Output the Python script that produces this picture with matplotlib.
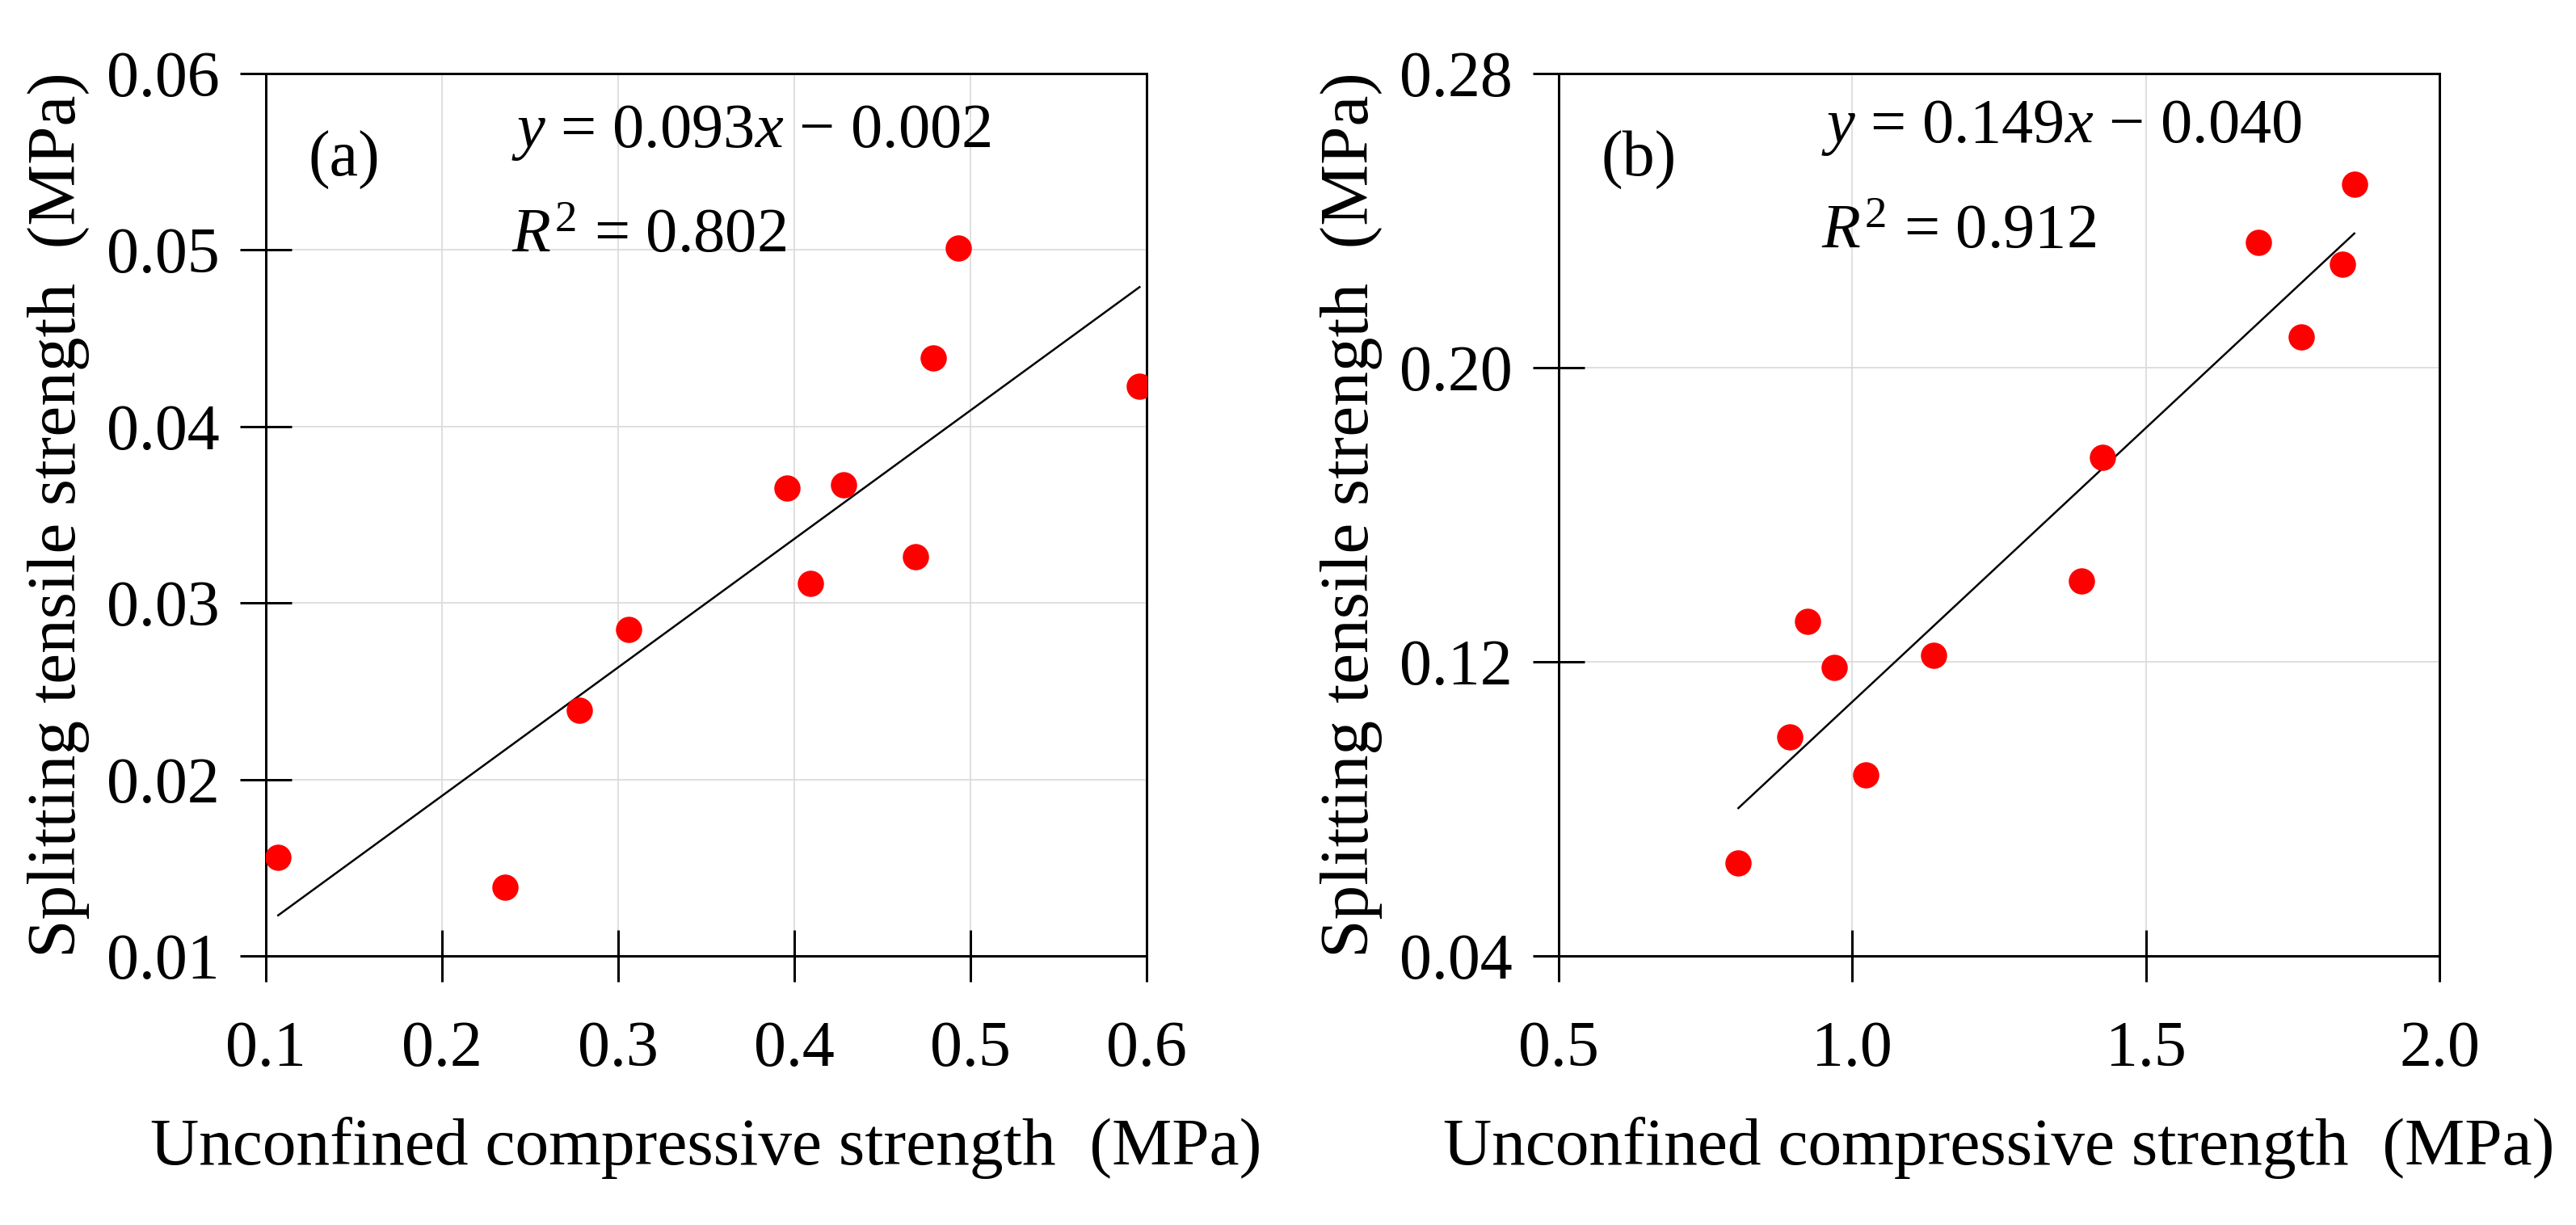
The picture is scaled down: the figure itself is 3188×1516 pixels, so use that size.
import matplotlib
matplotlib.use("Agg")
import matplotlib.pyplot as plt

plt.rcParams['font.family'] = ['Liberation Serif', 'DejaVu Serif']
plt.rcParams['mathtext.fontset'] = 'custom'
plt.rcParams['mathtext.rm'] = 'Liberation Serif'
plt.rcParams['mathtext.it'] = 'Liberation Serif:italic'

# (a) data
ucs_a = [0.107, 0.236, 0.278, 0.306, 0.396, 0.409, 0.428, 0.469, 0.479, 0.493, 0.596]
sts_a = [0.0156, 0.0139, 0.0239, 0.0285, 0.0365, 0.0311, 0.0367, 0.0326, 0.0439, 0.0501, 0.0423]
fit_x_a = [0.107, 0.596]
fit_y_a = [0.0123, 0.0479]

# (b) data
ucs_b = [0.806, 0.893, 0.924, 0.969, 1.023, 1.138, 1.390, 1.426, 1.692, 1.764, 1.835, 1.855]
sts_b = [0.0653, 0.0996, 0.1309, 0.1185, 0.0892, 0.1217, 0.1420, 0.1756, 0.2340, 0.2084, 0.2282, 0.2498]
fit_x_b = [0.806, 1.855]
fit_y_b = [0.0802, 0.2365]

xticks_a = [0.1, 0.2, 0.3, 0.4, 0.5, 0.6]
yticks_a = [0.01, 0.02, 0.03, 0.04, 0.05, 0.06]
xticks_b = [0.5, 1.0, 1.5, 2.0]
yticks_b = [0.04, 0.12, 0.20, 0.28]

panels = [
    dict(x=ucs_a, y=sts_a, fx=fit_x_a, fy=fit_y_a, xt=xticks_a, yt=yticks_a,
         xfmt='{:.1f}', yfmt='{:.2f}', tag='(a)',
         eq='$y$ = 0.093$x$ \u2212 0.002', r2='$R^{2}$ = 0.802',
         left=329, eqx=0.279, eqy=0.933, r2y=0.816),
    dict(x=ucs_b, y=sts_b, fx=fit_x_b, fy=fit_y_b, xt=xticks_b, yt=yticks_b,
         xfmt='{:.1f}', yfmt='{:.2f}', tag='(b)',
         eq='$y$ = 0.149$x$ \u2212 0.040', r2='$R^{2}$ = 0.912',
         left=1929, eqx=0.298, eqy=0.938, r2y=0.820),
]

W, H = 3188, 1516
fig = plt.figure(figsize=(W / 300, H / 300), dpi=300)

fs = 19.2
for p in panels:
    ax = fig.add_axes([p['left'] / W, (H - 1183) / H, 1090 / W, 1092 / H])
    ax.grid(True, color='#d9d9d9', linewidth=0.4, zorder=0)
    ax.set_axisbelow(True)
    ax.plot(p['fx'], p['fy'], color='black', linewidth=0.6, zorder=2)
    ax.plot(p['x'], p['y'], 'o', color='#ff0000', markersize=7.8,
            markeredgewidth=0, zorder=3)
    ax.set_xlim(p['xt'][0], p['xt'][-1])
    ax.set_ylim(p['yt'][0], p['yt'][-1])
    ax.set_xticks(p['xt'])
    ax.set_yticks(p['yt'])
    ax.set_xticklabels([p['xfmt'].format(v) for v in p['xt']])
    ax.set_yticklabels([p['yfmt'].format(v) for v in p['yt']])
    for s in ax.spines.values():
        s.set_linewidth(0.72)
    ax.tick_params(direction='inout', length=15.4, width=0.72, labelsize=fs)
    ax.tick_params(axis='x', pad=11.5)
    ax.tick_params(axis='y', pad=6)
    ax.set_xlabel('Unconfined compressive strength  (MPa)', fontsize=20, labelpad=11)
    ax.set_ylabel('Splitting tensile strength  (MPa)', fontsize=20.5, labelpad=5)
    ax.text(0.048, 0.902, p['tag'], transform=ax.transAxes, fontsize=fs,
            ha='left', va='center')
    ax.text(p['eqx'], p['eqy'], p['eq'], transform=ax.transAxes, fontsize=18.8,
            ha='left', va='center')
    ax.text(p['eqx'], p['r2y'], p['r2'], transform=ax.transAxes, fontsize=18.8,
            ha='left', va='center')

fig.savefig('out.png', dpi=300)
